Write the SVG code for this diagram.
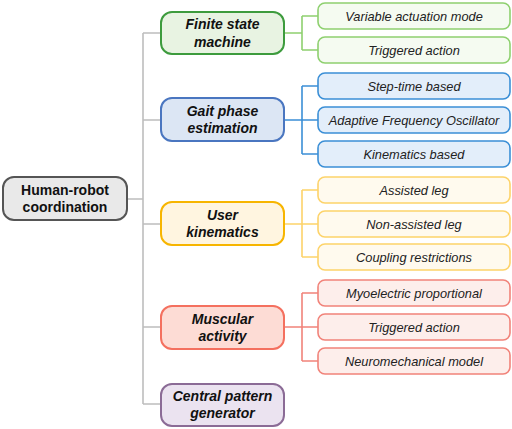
<svg xmlns="http://www.w3.org/2000/svg" width="512" height="429" viewBox="0 0 512 429">
<style>
text{font-family:"Liberation Sans",Arial,Helvetica,sans-serif;text-anchor:middle;fill:#111}
.mid{font-size:14px;font-weight:bold;font-style:italic}
.root{font-size:14px;font-weight:bold}
.leaf{font-size:12.8px;font-style:italic;fill:#222}
.c{fill:none;stroke-width:1.6}
.bm{stroke-width:2}
.bl{stroke-width:1.6}
</style>
<rect width="512" height="429" fill="#fff"/>
<g id="connectors">
<path class="c" stroke="#bdbdbd" d="M127 199H143M143 33V404M143 33H161M143 120H161M143 224H161M143 327H161M143 404H161"/>
<path class="c" stroke="#8ed06f" d="M284 33H302M302 16V50M302 16H318M302 50H318"/>
<path class="c" stroke="#3b8fd6" d="M284 120H302M302 86V154M302 86H318M302 120H318M302 154H318"/>
<path class="c" stroke="#fdd36a" d="M284 224H302M302 190V257M302 190H318M302 224H318M302 257H318"/>
<path class="c" stroke="#f1837a" d="M284 327H302M302 293V361M302 293H318M302 327H318M302 361H318"/>
</g>
<g id="root">
<rect class="bm" x="3" y="177" width="124" height="43" rx="11" fill="#e9e9e9" stroke="#555"/>
<text class="root" x="65" y="195">Human-robot</text>
<text class="root" x="65" y="212">coordination</text>
</g>
<g id="fsm">
<rect class="bm" x="161" y="12" width="123" height="42" rx="11" fill="#e8f3e2" stroke="#3d9b3d"/>
<text class="mid" x="222.5" y="29">Finite state</text>
<text class="mid" x="222.5" y="46.5">machine</text>
</g>
<g id="gait">
<rect class="bm" x="161" y="98" width="123" height="43" rx="11" fill="#dce6f4" stroke="#4a76c0"/>
<text class="mid" x="222.5" y="116">Gait phase</text>
<text class="mid" x="222.5" y="133">estimation</text>
</g>
<g id="userkin">
<rect class="bm" x="161" y="202" width="123" height="43" rx="11" fill="#fff5e0" stroke="#f7b500"/>
<text class="mid" x="222.5" y="220">User</text>
<text class="mid" x="222.5" y="237">kinematics</text>
</g>
<g id="muscular">
<rect class="bm" x="161" y="306" width="123" height="43" rx="11" fill="#fddcd5" stroke="#f4705f"/>
<text class="mid" x="222.5" y="324">Muscular</text>
<text class="mid" x="222.5" y="341">activity</text>
</g>
<g id="cpg">
<rect class="bm" x="161" y="384" width="123" height="42" rx="11" fill="#ebe3f0" stroke="#8b6b96"/>
<text class="mid" x="222.5" y="401">Central pattern</text>
<text class="mid" x="222.5" y="418">generator</text>
</g>
<g id="leaf-var">
<rect class="bl" x="318" y="3" width="192" height="26" rx="7" fill="#f5fbf1" stroke="#8ed06f"/>
<text class="leaf" x="414" y="20.5">Variable actuation mode</text>
</g>
<g id="leaf-trig1">
<rect class="bl" x="318" y="37" width="192" height="26" rx="7" fill="#f5fbf1" stroke="#8ed06f"/>
<text class="leaf" x="414" y="54.5">Triggered action</text>
</g>
<g id="leaf-step">
<rect class="bl" x="318" y="73" width="192" height="26" rx="7" fill="#e3eefa" stroke="#3b8fd6"/>
<text class="leaf" x="414" y="90.5">Step-time based</text>
</g>
<g id="leaf-afo">
<rect class="bl" x="318" y="107" width="192" height="26" rx="7" fill="#e3eefa" stroke="#3b8fd6"/>
<text class="leaf" x="414" y="124.5">Adaptive Frequency Oscillator</text>
</g>
<g id="leaf-kin">
<rect class="bl" x="318" y="141" width="192" height="26" rx="7" fill="#e3eefa" stroke="#3b8fd6"/>
<text class="leaf" x="414" y="158.5">Kinematics based</text>
</g>
<g id="leaf-assist">
<rect class="bl" x="318" y="177" width="192" height="26" rx="7" fill="#fffaee" stroke="#fdd36a"/>
<text class="leaf" x="414" y="194.5">Assisted leg</text>
</g>
<g id="leaf-nonassist">
<rect class="bl" x="318" y="211" width="192" height="26" rx="7" fill="#fffaee" stroke="#fdd36a"/>
<text class="leaf" x="414" y="228.5">Non-assisted leg</text>
</g>
<g id="leaf-coupling">
<rect class="bl" x="318" y="244" width="192" height="26" rx="7" fill="#fffaee" stroke="#fdd36a"/>
<text class="leaf" x="414" y="261.5">Coupling restrictions</text>
</g>
<g id="leaf-myo">
<rect class="bl" x="318" y="280" width="192" height="26" rx="7" fill="#fdeeeb" stroke="#f1837a"/>
<text class="leaf" x="414" y="297.5">Myoelectric proportional</text>
</g>
<g id="leaf-trig2">
<rect class="bl" x="318" y="314" width="192" height="26" rx="7" fill="#fdeeeb" stroke="#f1837a"/>
<text class="leaf" x="414" y="331.5">Triggered action</text>
</g>
<g id="leaf-neuro">
<rect class="bl" x="318" y="348" width="192" height="26" rx="7" fill="#fdeeeb" stroke="#f1837a"/>
<text class="leaf" x="414" y="365.5">Neuromechanical model</text>
</g>
</svg>
